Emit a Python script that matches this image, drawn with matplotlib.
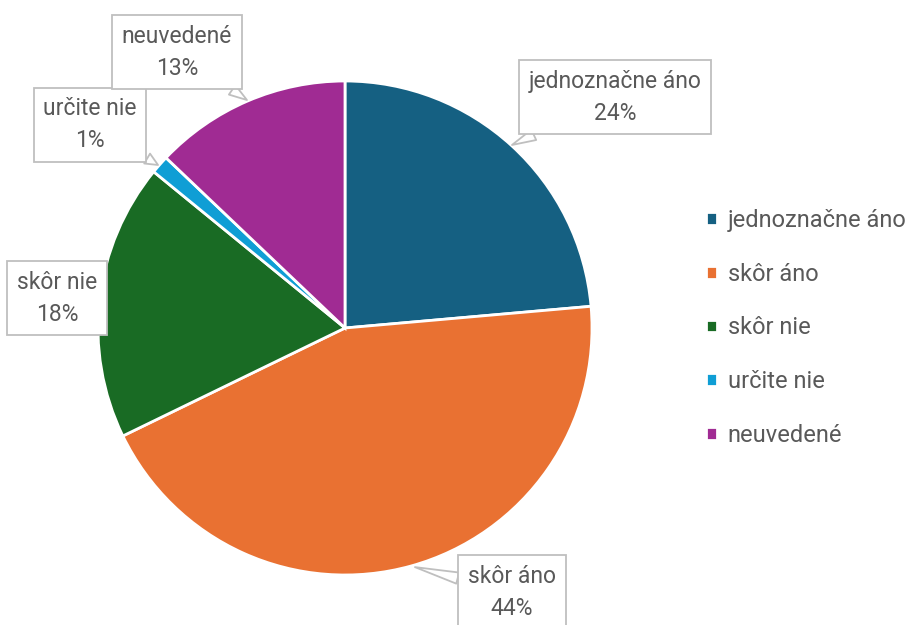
import matplotlib
matplotlib.use('Agg')
import matplotlib.pyplot as plt

plt.rcParams['font.family'] = ['Roboto', 'DejaVu Sans']

labels = ['jednoznačne áno', 'skôr áno', 'skôr nie', 'určite nie', 'neuvedené']
values = [23.6, 44.2, 18.1, 1.2, 12.9]      # slice sizes
pct_labels = [24, 44, 18, 1, 13]           # percentages printed in the callouts
colors = ['#156082', '#E97132', '#196B24', '#0F9ED5', '#A02B93']

# callout box centres and tail tips (pie radius = 1)
box_xy = [(1.093, 0.935), (0.676, -1.069), (-1.166, 0.121), (-1.032, 0.822), (-0.680, 1.117)]
tip_xy = [(0.676, 0.741), (0.283, -0.968), None, (-0.757, 0.660), (-0.397, 0.923)]

TXT = '#595959'

fig = plt.figure(figsize=(9.14, 6.25), dpi=100)
ax = fig.add_axes([98 / 914, 50 / 625, 494 / 914, 494 / 625])

wedges, _ = ax.pie(values, colors=colors, startangle=90, counterclock=False,
                   radius=1, wedgeprops=dict(edgecolor='white', linewidth=2))
ax.set_xlim(-1, 1)
ax.set_ylim(-1, 1)
ax.set_aspect('equal')
ax.axis('off')

for lab, p, bxy, txy in zip(labels, pct_labels, box_xy, tip_xy):
    s = '%s\n%d%%' % (lab, p)
    bbox = dict(boxstyle='square,pad=0.42', fc='white', ec='#BFBFBF', lw=1.3)
    if txy is None:
        ax.text(bxy[0], bxy[1], s, ha='center', va='center', fontsize=16.5,
                color=TXT, bbox=bbox, linespacing=1.5, clip_on=False)
    else:
        ax.annotate(s, xy=txy, xytext=bxy, ha='center', va='center', fontsize=16.5,
                    color=TXT, bbox=bbox, linespacing=1.5, annotation_clip=False,
                    arrowprops=dict(arrowstyle='wedge,tail_width=0.5', fc='white',
                                    ec='#BFBFBF', lw=1.3, shrinkA=0, shrinkB=0))

leg = fig.legend(wedges, labels, loc='center left', bbox_to_anchor=(697 / 914, 1 - 328 / 625),
                 frameon=False, fontsize=17, handlelength=0.45, handleheight=0.45,
                 handletextpad=0.45, labelspacing=1.3, borderaxespad=0)
for t in leg.get_texts():
    t.set_color(TXT)

fig.savefig('out.png', dpi=100)
